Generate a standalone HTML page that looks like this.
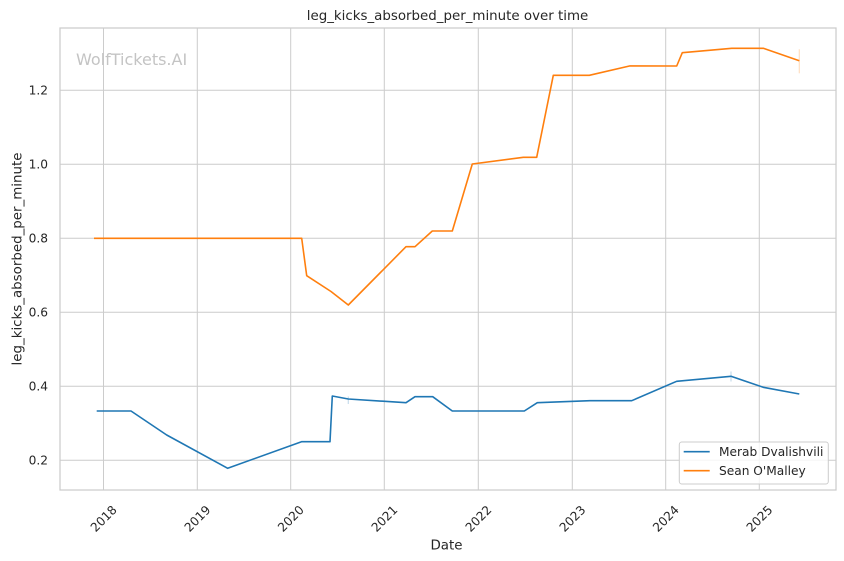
<!DOCTYPE html>
<html>
<head>
<meta charset="utf-8">
<style>
  html, body { margin:0; padding:0; background:#ffffff; }
  svg { display:block; }
  text { font-family: "DejaVu Sans", "Liberation Sans", sans-serif; fill:#262626; }
</style>
</head>
<body>
<svg width="844" height="561" viewBox="0 0 844 561" xmlns="http://www.w3.org/2000/svg">
  <rect x="0" y="0" width="844" height="561" fill="#ffffff"/>
  <!-- plot background -->
  <rect x="60" y="28" width="776" height="462" fill="#ffffff"/>

  <!-- grid: vertical -->
  <g stroke="#cccccc" stroke-width="1" fill="none">
    <line x1="103.5" y1="28" x2="103.5" y2="490"/>
    <line x1="197.3" y1="28" x2="197.3" y2="490"/>
    <line x1="290.7" y1="28" x2="290.7" y2="490"/>
    <line x1="384.3" y1="28" x2="384.3" y2="490"/>
    <line x1="478.3" y1="28" x2="478.3" y2="490"/>
    <line x1="572.3" y1="28" x2="572.3" y2="490"/>
    <line x1="665.7" y1="28" x2="665.7" y2="490"/>
    <line x1="759.3" y1="28" x2="759.3" y2="490"/>
  <!-- grid: horizontal -->
    <line x1="60" y1="460.3" x2="836" y2="460.3"/>
    <line x1="60" y1="386.3" x2="836" y2="386.3"/>
    <line x1="60" y1="312.3" x2="836" y2="312.3"/>
    <line x1="60" y1="238.3" x2="836" y2="238.3"/>
    <line x1="60" y1="164.3" x2="836" y2="164.3"/>
    <line x1="60" y1="90.3" x2="836" y2="90.3"/>
  </g>

  <!-- watermark -->
  <text x="76" y="65" font-size="16" style="fill:#c4c4c4">WolfTickets.AI</text>

  <!-- faint error ticks -->
  <g stroke-width="1.2" opacity="0.25">
    <line x1="799.3" y1="49.3" x2="799.3" y2="73.3" stroke="#ff7f0e"/>
    <line x1="731" y1="371.5" x2="731" y2="381.5" stroke="#1f77b4"/>
    <line x1="348.3" y1="396.5" x2="348.3" y2="404" stroke="#1f77b4"/>
  </g>

  <!-- Sean O'Malley -->
  <polyline fill="none" stroke="#ff7f0e" stroke-width="1.6" stroke-linejoin="round"
    points="94,238.3 301.7,238.3 306.7,275.7 331,291.5 348.3,305 406,246.7 415,246.7 432.3,231 452.3,231 472.3,164 523.3,157.3 536.7,157.3 553.3,75.3 589.3,75.3 630,65.9 676.7,66 682.3,52.7 731.7,48.3 763.3,48.3 799.3,60.7"/>

  <!-- Merab Dvalishvili -->
  <polyline fill="none" stroke="#1f77b4" stroke-width="1.6" stroke-linejoin="round"
    points="96.7,411 131,411 166.7,435 227.7,468.3 301.5,441.7 330,441.7 332.3,396 348.3,399 406,402.7 415,396.7 432.7,396.7 452.3,411 524.3,411 537.3,402.7 590,400.7 631.7,400.7 676.7,381.3 731,376.3 763.3,387.3 799.3,394"/>

  <!-- spines -->
  <rect x="60" y="28" width="776" height="462" fill="none" stroke="#cccccc" stroke-width="1.25"/>

  <!-- y tick labels -->
  <g font-size="12.2" text-anchor="end">
    <text x="48" y="464.7">0.2</text>
    <text x="48" y="390.7">0.4</text>
    <text x="48" y="316.7">0.6</text>
    <text x="48" y="242.7">0.8</text>
    <text x="48" y="168.7">1.0</text>
    <text x="48" y="94.7">1.2</text>
  </g>

  <!-- x tick labels (rotated 45) -->
  <g font-size="12.2" text-anchor="middle">
    <text transform="translate(103.5,518.5) rotate(-45)" dy="4.4">2018</text>
    <text transform="translate(197.3,518.5) rotate(-45)" dy="4.4">2019</text>
    <text transform="translate(290.7,518.5) rotate(-45)" dy="4.4">2020</text>
    <text transform="translate(384.3,518.5) rotate(-45)" dy="4.4">2021</text>
    <text transform="translate(478.3,518.5) rotate(-45)" dy="4.4">2022</text>
    <text transform="translate(572.3,518.5) rotate(-45)" dy="4.4">2023</text>
    <text transform="translate(665.7,518.5) rotate(-45)" dy="4.4">2024</text>
    <text transform="translate(759.3,518.5) rotate(-45)" dy="4.4">2025</text>
  </g>

  <!-- axis labels -->
  <text x="446.5" y="549.5" font-size="13.4" text-anchor="middle">Date</text>
  <text transform="translate(21.5,259) rotate(-90)" font-size="13.4" text-anchor="middle">leg_kicks_absorbed_per_minute</text>

  <!-- title -->
  <text x="447.5" y="20" font-size="13.4" text-anchor="middle">leg_kicks_absorbed_per_minute over time</text>

  <!-- legend -->
  <rect x="679.3" y="442" width="149" height="42" rx="2.5" ry="2.5" fill="#ffffff" fill-opacity="0.8" stroke="#cccccc" stroke-width="1"/>
  <line x1="683.7" y1="451.7" x2="709.7" y2="451.7" stroke="#1f77b4" stroke-width="1.6"/>
  <line x1="683.7" y1="470.7" x2="709.7" y2="470.7" stroke="#ff7f0e" stroke-width="1.6"/>
  <g font-size="12.2">
    <text x="719" y="456">Merab Dvalishvili</text>
    <text x="719" y="475">Sean O'Malley</text>
  </g>
</svg>
</body>
</html>
